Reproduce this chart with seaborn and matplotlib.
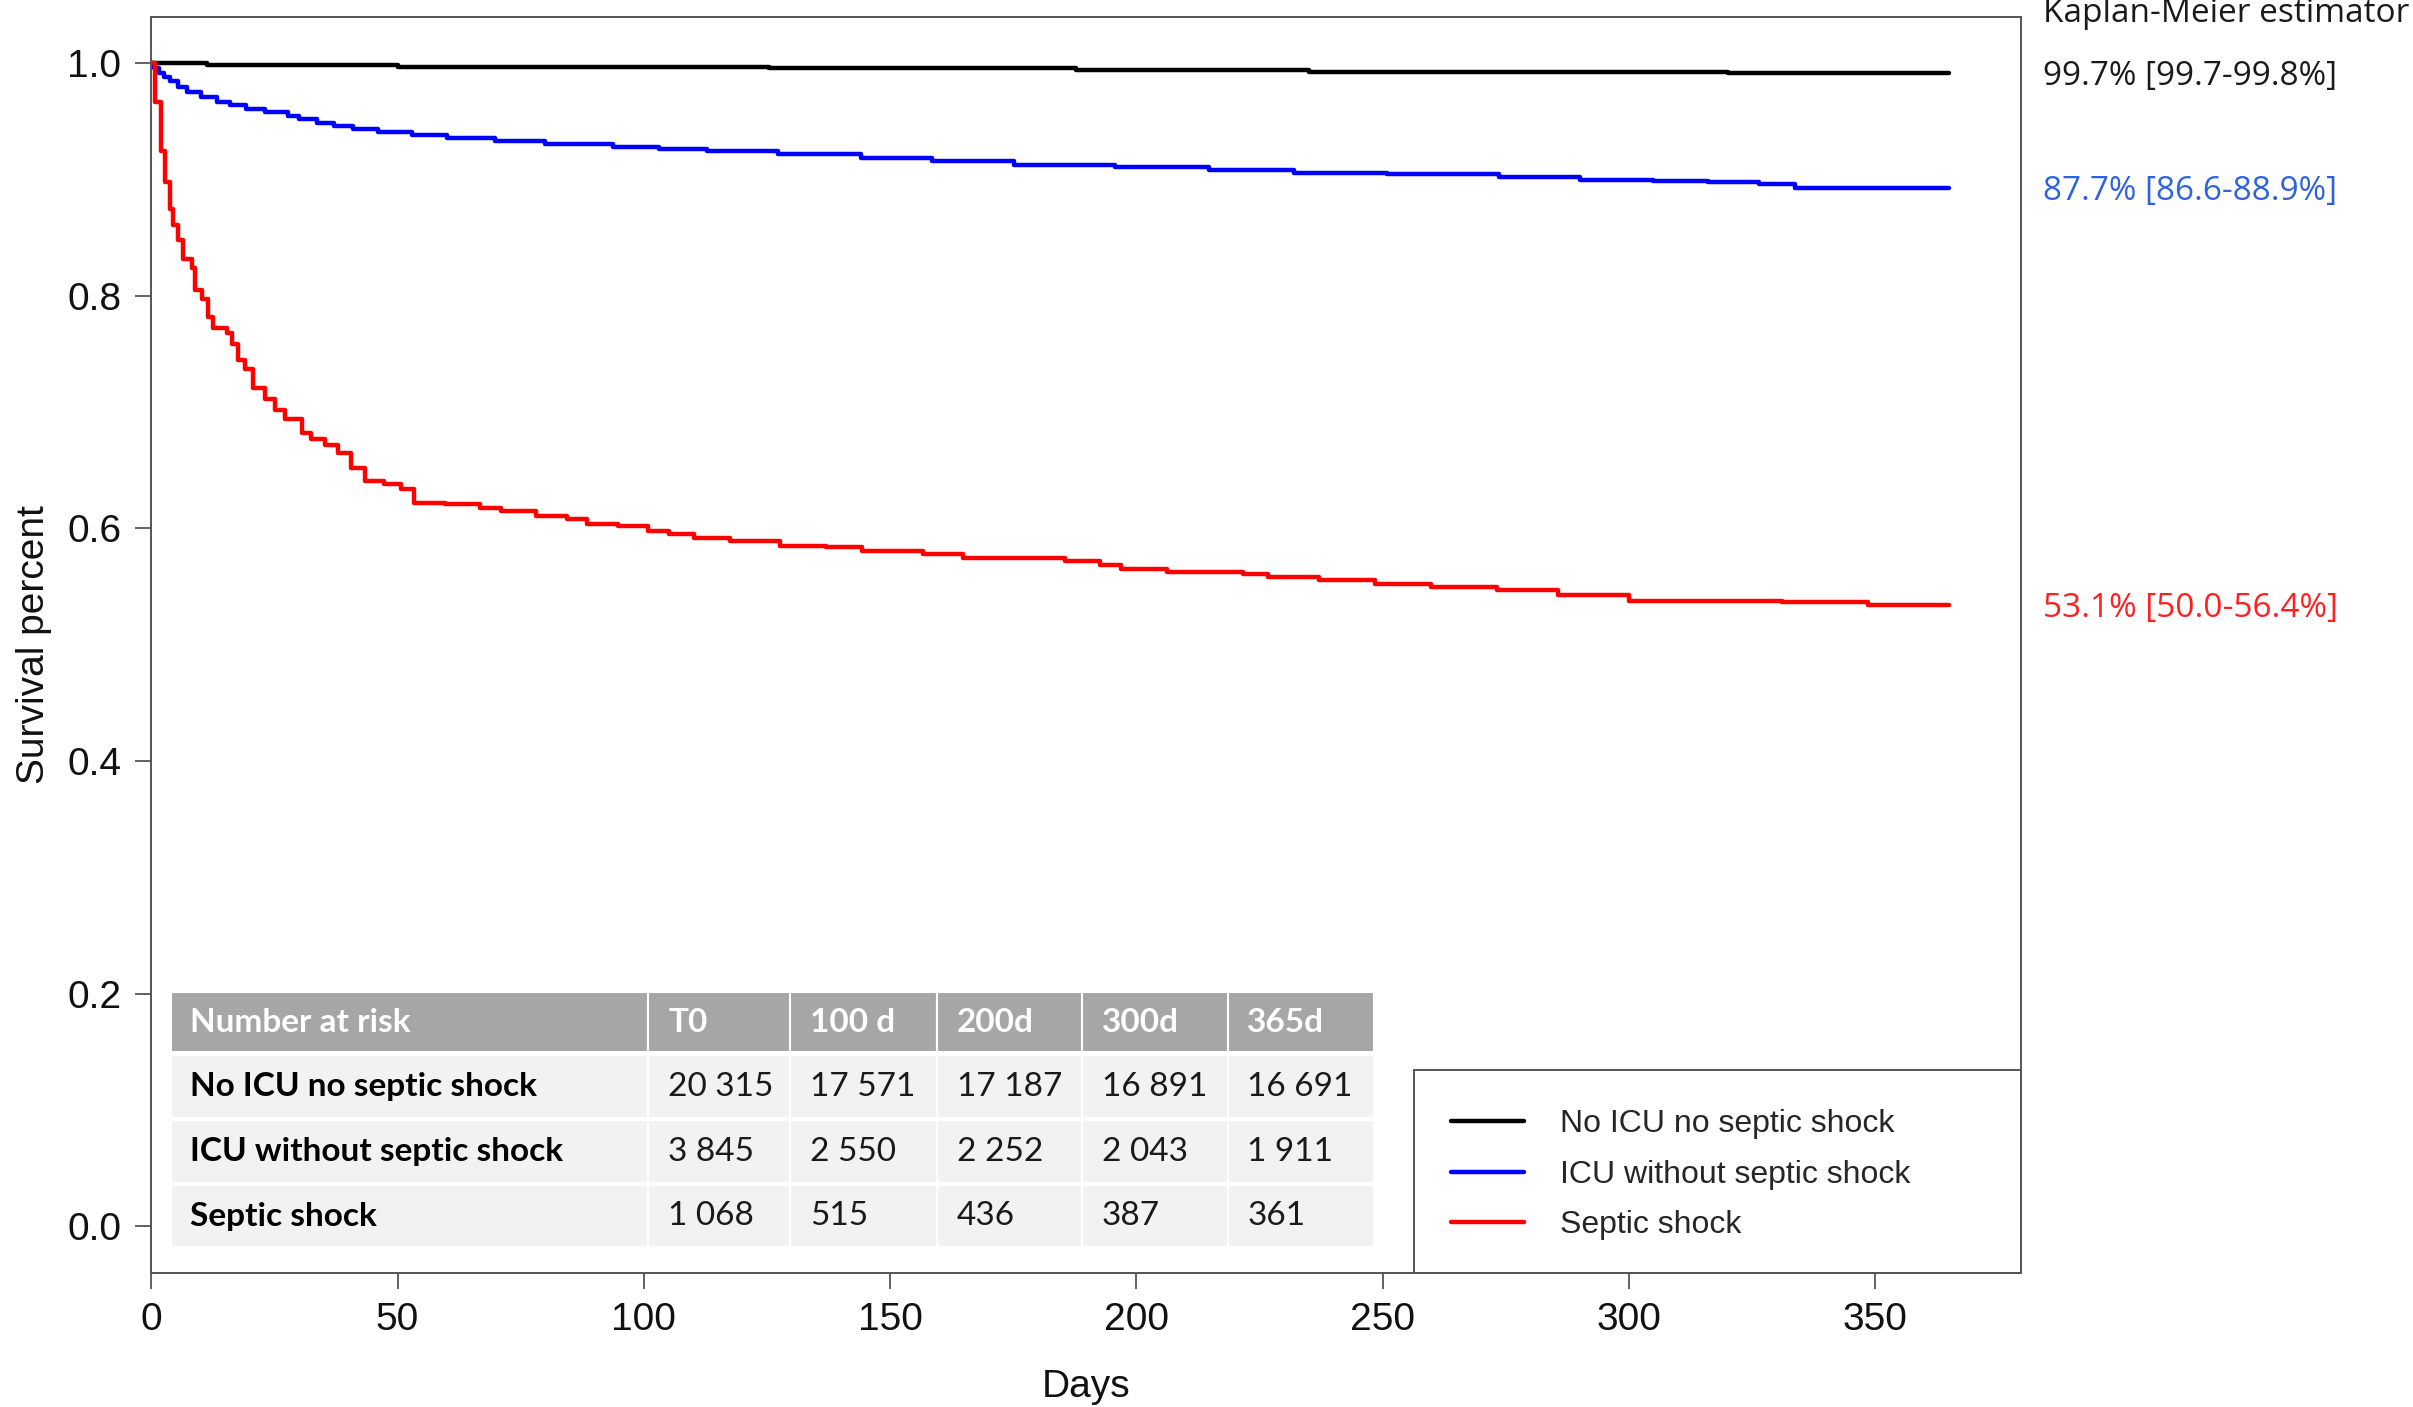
import matplotlib
matplotlib.use('Agg')
import numpy as np
import pandas as pd
import matplotlib.pyplot as plt
import matplotlib.transforms as mtransforms
from matplotlib.patches import Rectangle
from matplotlib.lines import Line2D
from matplotlib.ticker import FormatStrFormatter
import seaborn as sns

# Kaplan-Meier curves (day, survival)
no_icu_days = [0, 11.4, 50, 125.5, 187.7, 235, 320, 365]
no_icu_surv = [1.0, 0.9986, 0.9972, 0.9958, 0.9944, 0.9930, 0.9915, 0.9915]

icu_days = [0, 0.5, 1.5, 2.5, 3.7, 5.5, 7.3, 10, 13.3, 16, 19.3, 23, 27.7, 30,
            33.7, 37, 40.9, 46, 52.9, 60, 69.7, 80, 93.7, 103, 112.9, 127.3,
            144, 158.5, 175.2, 195.6, 214.8, 232, 250.8, 273.6, 290, 304.8,
            316, 326.4, 333.6, 365]
icu_surv = [1.0, 0.996, 0.992, 0.988, 0.985, 0.980, 0.975, 0.971, 0.967, 0.964,
            0.961, 0.958, 0.955, 0.952, 0.949, 0.946, 0.944, 0.941, 0.938, 0.936,
            0.933, 0.931, 0.928, 0.926, 0.925, 0.922, 0.919, 0.916, 0.913, 0.911,
            0.908, 0.906, 0.905, 0.902, 0.900, 0.899, 0.898, 0.896, 0.893, 0.893]

shock_days = [0, 0.67, 2.0, 2.8, 3.8, 4.5, 5.5, 6.5, 8.2, 8.8, 10.2, 11.6, 12.6,
              15.3, 16.3, 17.7, 19.0, 20.7, 23.0, 25.1, 27.1, 30.5, 32.5, 35.2,
              37.9, 40.6, 43.3, 47.3, 50.7, 53.4, 59.6, 66.8, 70.9, 78.2, 84.3,
              88.5, 94.7, 100.8, 105, 110.1, 117.4, 127.7, 137, 144.2, 156.6,
              164.8, 185.5, 192.7, 196.8, 206.1, 221.6, 226.7, 237, 248.4, 259.8,
              273.2, 285.6, 300, 331, 348.5, 365]
shock_surv = [1.0, 0.967, 0.925, 0.898, 0.875, 0.861, 0.848, 0.832, 0.824, 0.805,
              0.797, 0.782, 0.772, 0.768, 0.759, 0.745, 0.737, 0.721, 0.711, 0.702,
              0.694, 0.682, 0.677, 0.672, 0.665, 0.652, 0.641, 0.638, 0.634, 0.622,
              0.621, 0.618, 0.615, 0.611, 0.608, 0.604, 0.602, 0.598, 0.595, 0.592,
              0.589, 0.585, 0.584, 0.581, 0.578, 0.575, 0.572, 0.569, 0.565, 0.563,
              0.561, 0.558, 0.556, 0.552, 0.550, 0.547, 0.543, 0.538, 0.537, 0.534,
              0.534]

groups = ['No ICU no septic shock', 'ICU without septic shock', 'Septic shock']
line_colors = ['#000000', '#0000ff', '#ff0000']
km_labels = ['99.7% [99.7-99.8%]', '87.7% [86.6-88.9%]', '53.1% [50.0-56.4%]']
km_colors = ['#1a1a1a', '#2f62e0', '#ff2020']

risk_header = ['Number at risk', 'T0', '100 d', '200d', '300d', '365d']
risk_no_icu = ['20 315', '17 571', '17 187', '16 891', '16 691']
risk_icu = ['3 845', '2 550', '2 252', '2 043', '1 911']
risk_shock = ['1 068', '515', '436', '387', '361']

sns.set_style('ticks')
plt.rcParams['font.family'] = ['Liberation Sans', 'DejaVu Sans']

df = pd.concat([
    pd.DataFrame({'day': no_icu_days, 'surv': no_icu_surv, 'group': groups[0]}),
    pd.DataFrame({'day': icu_days, 'surv': icu_surv, 'group': groups[1]}),
    pd.DataFrame({'day': shock_days, 'surv': shock_surv, 'group': groups[2]}),
], ignore_index=True)

fig = plt.figure(figsize=(24.13, 14.07), dpi=100)
ax = fig.add_axes([0.0627, 0.0955, 0.7749, 0.8925])

sns.lineplot(data=df, x='day', y='surv', hue='group', hue_order=groups,
             palette=dict(zip(groups, line_colors)), estimator=None, sort=False,
             drawstyle='steps-post', linewidth=3.2, legend=False, ax=ax)

ax.set_xlim(0, 379.6)
ax.set_ylim(-0.04, 1.04)
ax.set_xticks([0, 50, 100, 150, 200, 250, 300, 350])
ax.set_yticks([0.0, 0.2, 0.4, 0.6, 0.8, 1.0])
ax.yaxis.set_major_formatter(FormatStrFormatter('%.1f'))
ax.tick_params(direction='out', length=11.5, width=1.3, color='#555555',
               labelsize=28, pad=10, labelcolor='#111111')
for sp in ax.spines.values():
    sp.set_color('#555555')
    sp.set_linewidth(1.4)

ax.set_xlabel('Days', fontsize=28, color='#111111')
ax.set_ylabel('Survival percent', fontsize=28, color='#111111')
ax.xaxis.set_label_coords(0.5, -0.077)
ax.yaxis.set_label_coords(-0.053, 0.5)

# number-at-risk table
col_edges = [3.9, 100.9, 129.7, 159.5, 189.0, 218.5, 248.3]
row_edges = [(0.150, 0.201), (0.093, 0.147), (0.037, 0.091), (-0.018, 0.035)]
rows = [risk_header,
        [groups[0]] + risk_no_icu,
        [groups[1]] + risk_icu,
        [groups[2]] + risk_shock]
for r, (y0, y1) in enumerate(row_edges):
    for c in range(6):
        face = '#a6a6a6' if r == 0 else '#f2f2f2'
        ax.add_patch(Rectangle((col_edges[c], y0), col_edges[c + 1] - col_edges[c],
                               y1 - y0, facecolor=face, edgecolor='white',
                               lw=1.5, zorder=3))
        if r == 0:
            color, weight = 'white', 'bold'
        elif c == 0:
            color, weight = '#000000', 'bold'
        else:
            color, weight = '#1a1a1a', 'normal'
        ax.text(col_edges[c] + 4, (y0 + y1) / 2, rows[r][c], fontsize=24,
                family=['Lato', 'DejaVu Sans'], fontweight=weight, color=color,
                ha='left', va='center', zorder=4)

# legend in a box at the lower right
handles = [Line2D([], [], color=c, lw=3.2) for c in line_colors]
ax.legend(handles, groups, loc='center left', bbox_to_anchor=(0.695, 0.078),
          frameon=False, fontsize=23, handlelength=2.3, handletextpad=1.11,
          labelspacing=0.64, borderpad=0, borderaxespad=0)
ax.add_patch(Rectangle((0.6755, 0), 1 - 0.6755, 0.161, transform=ax.transAxes,
                       fill=False, edgecolor='#555555', lw=1.4, clip_on=False,
                       zorder=5))

# Kaplan-Meier estimates at the right margin, digits centred on each curve end
trans = mtransforms.blended_transform_factory(fig.transFigure, ax.transData)
trans = mtransforms.offset_copy(trans, fig=fig, y=-8.5, units='points')
fig.text(0.8468, 0.9844, 'Kaplan-Meier estimator', fontsize=24,
         family=['Open Sans', 'DejaVu Sans'], color='#1a1a1a', va='baseline')
end_values = [no_icu_surv[-1], icu_surv[-1], shock_surv[-1]]
for lab, col, yv in zip(km_labels, km_colors, end_values):
    ax.text(0.8468, yv, lab, transform=trans, fontsize=24, color=col,
            family=['Open Sans', 'DejaVu Sans'], va='baseline', ha='left',
            clip_on=False)

fig.savefig('out.png', dpi=100)
